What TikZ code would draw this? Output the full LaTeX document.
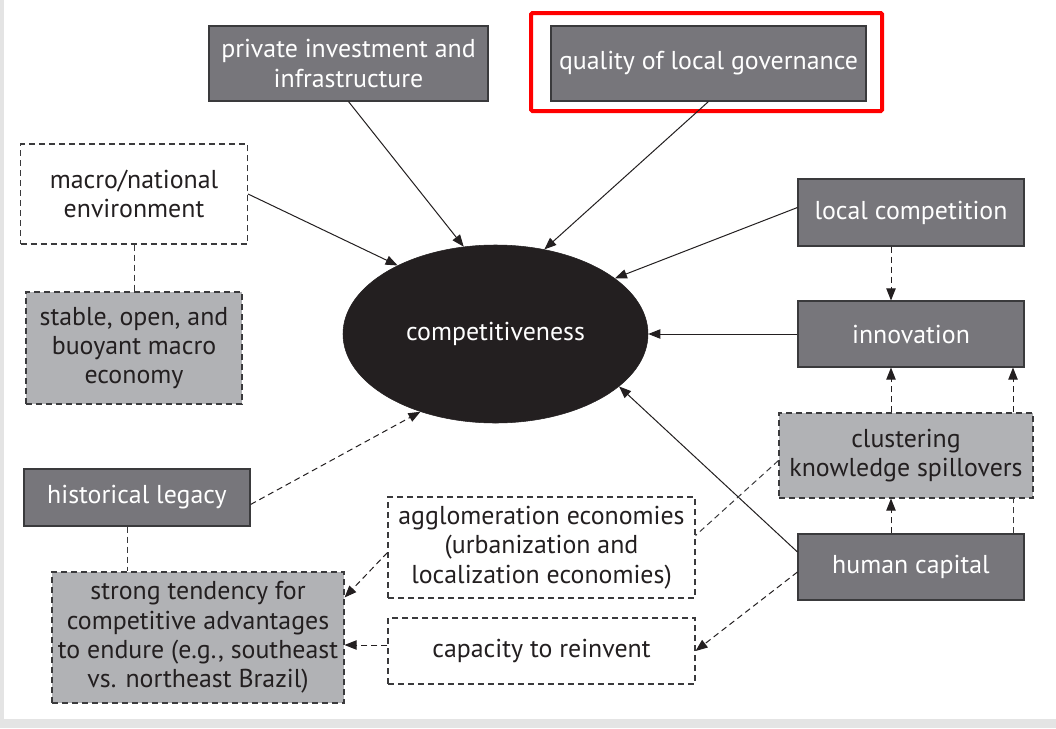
\documentclass[tikz,border=0pt]{standalone}
\usepackage{fontspec}
\setmainfont{PT Sans}
\usetikzlibrary{arrows.meta,calc,shapes.geometric}
\definecolor{darkbox}{HTML}{77767B}
\definecolor{lightbox}{HTML}{B1B2B5}
\definecolor{boxline}{HTML}{3A3A3C}
\definecolor{textdark}{HTML}{231F20}
\definecolor{pagegray}{HTML}{E4E4E4}
\begin{document}
\begin{tikzpicture}[x=0.75pt,y=-0.75pt,
  base/.style={rectangle, align=center, inner sep=0pt, font=\fontsize{19.4}{22}\selectfont, line width=0.8pt},
  dsh/.style={dash pattern=on 4.5pt off 3pt},
  dark/.style={base, fill=darkbox, draw=boxline, text=white},
  light/.style={base, fill=lightbox, draw=boxline, dsh, text=textdark},
  plain/.style={base, fill=white, draw=boxline, dsh, text=textdark},
  arr/.style={-{Triangle[length=9pt,width=7pt]}, line width=0.75pt, draw=textdark},
  darr/.style={arr, dsh},
  dline/.style={line width=0.75pt, draw=boxline, dsh}
]
\useasboundingbox (0,0) rectangle (1056,728);
\fill[pagegray] (0,0) rectangle (1056,728);
\fill[white] (4,0) rectangle (1056,719);

% nodes
\node[dark, minimum width=209.25pt, minimum height=56.25pt] (pia) at (348.5,63.5) {private investment and\\infrastructure};
\node[dark, minimum width=236.25pt, minimum height=56.25pt] (qlg) at (708.5,63.5) {quality of local governance};
\draw[red, line width=3pt, rounded corners=1pt] (531,13) rectangle (882,111);
\node[plain, minimum width=170.25pt, minimum height=75pt] (mne) at (134,194) {macro/national\\environment};
\node[light, minimum width=162pt, minimum height=84pt] (sob) at (134,348) {stable, open, and\\buoyant macro\\economy};
\node[dark, minimum width=169.5pt, minimum height=50.25pt] (lc) at (911,212.5) {local competition};
\node[dark, minimum width=169.5pt, minimum height=49.5pt] (inn) at (911,334) {innovation};
\node[light, minimum width=190.5pt, minimum height=63.75pt] (cks) at (906,455.5) {clustering\\knowledge spillovers};
\node[dark, minimum width=169.5pt, minimum height=42.75pt] (hl) at (137,497.5) {historical legacy};
\node[plain, minimum width=230.25pt, minimum height=75.75pt] (agg) at (541.5,547.5) {agglomeration economies\\(urbanization and\\localization economies)};
\node[dark, minimum width=169.5pt, minimum height=49.5pt] (hc) at (911,567) {human capital};
\node[light, minimum width=219pt, minimum height=98.25pt] (st) at (198,637.5) {strong tendency for\\competitive advantages\\to endure (e.g., southeast\\vs. northeast Brazil)};
\node[plain, minimum width=230.25pt, minimum height=49.5pt] (cap) at (541.5,651) {capacity to reinvent};
\node[ellipse, fill=textdark, draw=textdark, inner sep=0pt, minimum width=228.75pt, minimum height=133.5pt, text=white, font=\fontsize{19.4}{22}\selectfont] (ell) at (495.5,334) {competitiveness};

% solid arrows to competitiveness
\draw[arr] (pia.south) -- (ell.110);
\draw[arr] (qlg.south) -- (ell.60);
\draw[arr] (mne.east) -- (ell.145);
\draw[arr] ($(lc.west)+(0,-5)$) -- (ell.25);
\draw[arr] (inn.west) -- (ell.0);
\draw[arr] ($(hc.west)+(0,-15)$) -- (ell.-23);
\draw[darr] ($(hl.east)+(0,7)$) -- (ell.226);

% undirected dashed links
\draw[dline] (mne.south) -- (sob.north);
\draw[dline] (hl.south -| 127,0) -- (st.north -| 127,0);

% right column
\draw[darr] (lc.south -| 891,0) -- (inn.north -| 891,0);
\draw[darr] (cks.north -| 891,0) -- (inn.south -| 891,0);
\draw[darr] (cks.north -| 1013,0) -- (inn.south -| 1013,0);
\draw[darr] (hc.north -| 891,0) -- (cks.south -| 891,0);
\draw[dline] (hc.north -| 1013,0) -- (cks.south -| 1013,0);

% lower links
\draw[dline] ($(cks.west)+(0,5)$) -- ($(agg.east)+(0,-12)$);
\draw[darr] ($(agg.west)+(0,5)$) -- ($(st.east)+(0,-40)$);
\draw[darr] ($(hc.west)+(0,5)$) -- (cap.east);
\draw[darr] ($(cap.west)+(0,-6)$) -- ($(st.east)+(0,7.5)$);
\end{tikzpicture}
\end{document}
